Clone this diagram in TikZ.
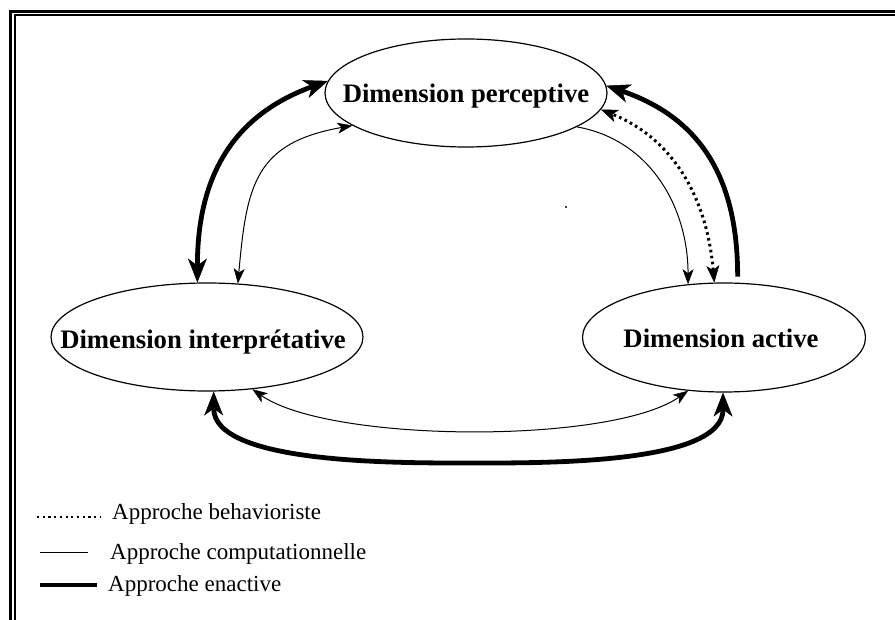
\documentclass[tikz,border=0pt]{standalone}
\usepackage{fontspec}
\setmainfont{Liberation Serif}
\usetikzlibrary{arrows.meta,shapes.geometric}
\begin{document}
\begin{tikzpicture}[x=1pt,y=1pt,
  dim/.style={draw, ellipse, line width=1.2pt, inner sep=0pt},
  lbl/.style={font=\fontsize{26.7pt}{30pt}\selectfont\bfseries, inner sep=0pt, anchor=base},
  leg/.style={font=\fontsize{23pt}{26pt}\selectfont, inner sep=0pt, anchor=base west},
  compu/.style={line width=1pt},
  enact/.style={line width=4.8pt},
  behav/.style={line width=3pt, dash pattern=on 2.6pt off 3.4pt},
  tS/.tip={Stealth[length=15pt,width=11pt,inset=4pt,line width=0.5pt]},
  tB/.tip={Stealth[length=24pt,width=19pt,inset=7pt,line width=0.5pt]},
  tD/.tip={Stealth[length=17pt,width=13pt,inset=4.5pt,line width=0.5pt]},
]
\useasboundingbox (0,0) rectangle (895,-620);
% frame
\draw[line width=3pt] (10.8,-620) -- (10.8,-11.3) -- (895,-11.3);
\draw[line width=2pt] (14.6,-620) -- (14.6,-15.1) -- (895,-15.1);

% ellipses
\node[dim, minimum width=282pt, minimum height=108pt] (P) at (466,-93) {};
\node[dim, minimum width=312pt, minimum height=108pt] (I) at (207,-337) {};
\node[dim, minimum width=283pt, minimum height=109pt] (A) at (724,-337.5) {};
\node[lbl] (Pt) at (466,-103) {Dimension perceptive};
\node[lbl] (It) at (203,-349) {Dimension interprétative};
\node[lbl] (At) at (721,-348) {Dimension active};

% interpretative <-> perceptive
\draw[enact, {tB}-{tB}] (I.100) to[out=90,in=200,looseness=1.1] (P.175);
\draw[compu, {tS}-{tS}] (I.60) to[out=85,in=190,looseness=1.3] (P.196);
% perceptive <-> active
\draw[compu, -{tS}] (P.-17) to[out=-10,in=90] (A.124);
\draw[behav, {tD}-{tD}] (A.100) to[out=95,in=-22] (P.-7);
\draw[enact, -{tB}, shorten <=6pt] (A.76) to[out=90,in=-19,looseness=1.1] (P.3);
% interpretative <-> active
\coordinate (bm) at (468,-463);
\draw[enact, {tB}-{tB}] (I.277) to[out=-90,in=180,looseness=0.7] (bm)
      to[out=0,in=-90,looseness=0.7] (A.269);
\draw[compu, {tS}-{tS}] (I.-49) to[out=-35,in=-145,looseness=0.55] (A.236);

% stray dot
\fill[black!75] (565,-206) rectangle (567,-208);

% legend
\coordinate (l1a) at (37,-517);  \coordinate (l1b) at (101,-517);
\coordinate (l2a) at (40,-552);  \coordinate (l2b) at (88,-552);
\coordinate (l3a) at (40,-585);  \coordinate (l3b) at (97,-585);
\draw[line width=2.2pt, dash pattern=on 2.2pt off 3.5pt] (l1a) -- (l1b);
\draw[compu] (l2a) -- (l2b);
\draw[enact] (l3a) -- (l3b);
\node[leg] (L1) at (112,-519) {Approche behavioriste};
\node[leg] (L2) at (110,-559) {Approche computationnelle};
\node[leg] (L3) at (108,-591) {Approche enactive};
\end{tikzpicture}
\end{document}
